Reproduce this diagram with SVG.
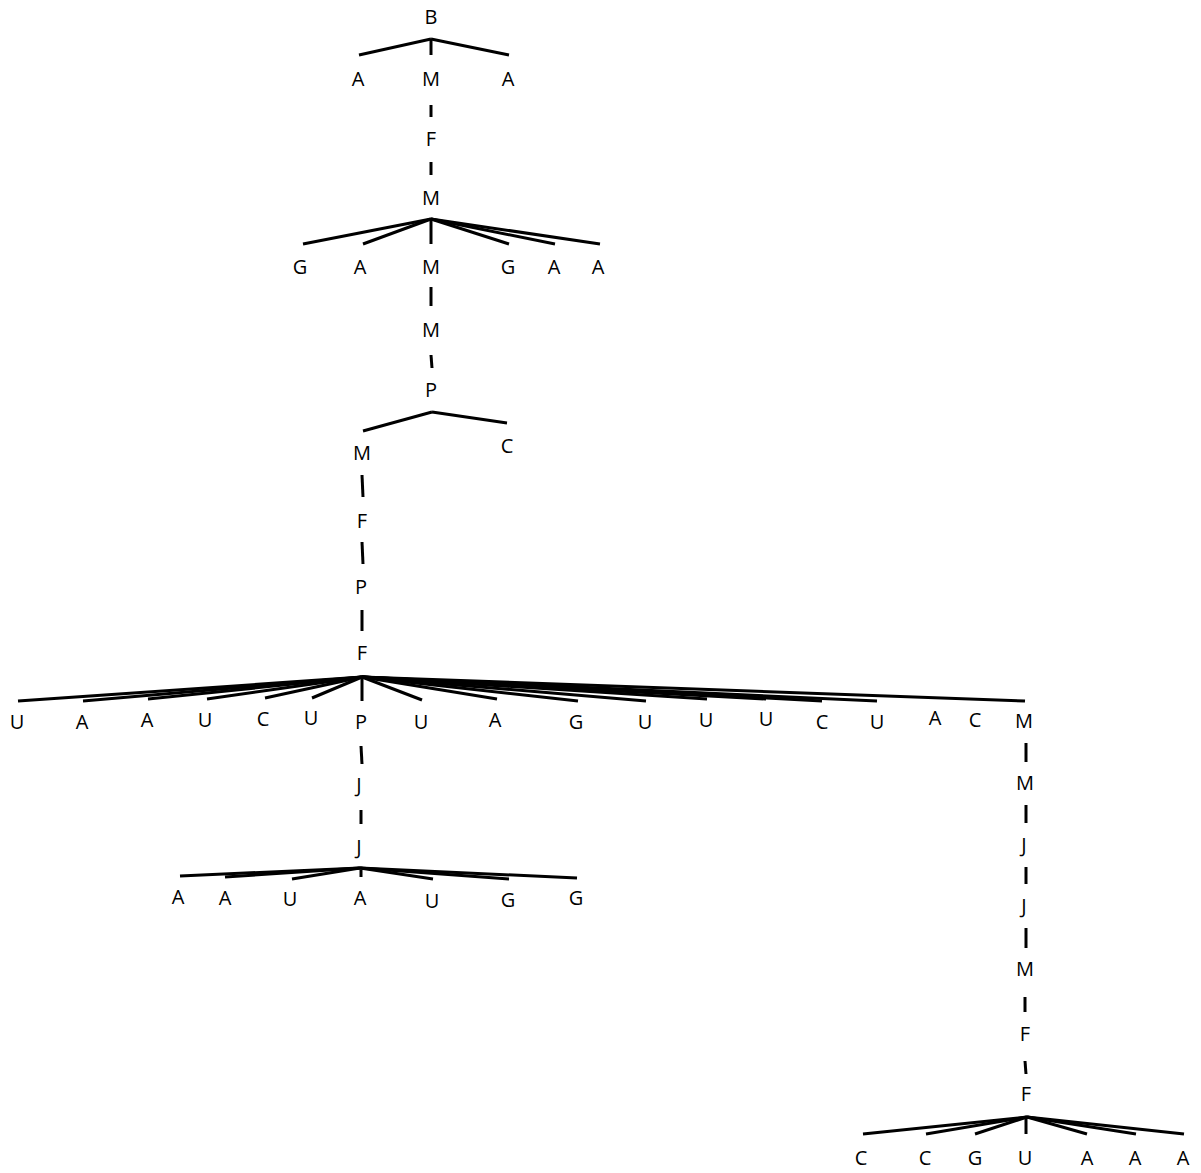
<svg xmlns="http://www.w3.org/2000/svg" width="1201" height="1173" viewBox="0 0 1201 1173">
<style>
text{font-family:"Open Sans","Liberation Sans",sans-serif;font-size:20px;fill:#000;text-anchor:middle}
.c line{stroke:#000;stroke-width:3;stroke-linecap:butt}
</style>
<rect width="1201" height="1173" fill="#fff"/>
<g class="c" id="connectors">
<line x1="431" y1="39" x2="359" y2="55"/><line x1="431" y1="39" x2="431" y2="55"/><line x1="431" y1="39" x2="509" y2="55"/>
<line x1="431" y1="105" x2="431" y2="117"/><line x1="431" y1="162" x2="431" y2="175"/>
<line x1="431" y1="219" x2="303" y2="244"/><line x1="431" y1="219" x2="363" y2="244"/><line x1="431" y1="219" x2="431" y2="244"/><line x1="431" y1="219" x2="509" y2="244"/><line x1="431" y1="219" x2="555" y2="244"/><line x1="431" y1="219" x2="600" y2="244"/>
<line x1="431" y1="287" x2="431" y2="306"/><line x1="431" y1="355" x2="432" y2="368"/>
<line x1="432" y1="412" x2="363" y2="431"/><line x1="432" y1="412" x2="507" y2="423"/>
<line x1="362" y1="475" x2="363" y2="497"/><line x1="362" y1="542" x2="363" y2="564"/><line x1="362" y1="610" x2="362" y2="631"/>
<line x1="362" y1="677" x2="18" y2="701"/><line x1="362" y1="677" x2="83" y2="701"/><line x1="362" y1="677" x2="148" y2="699"/><line x1="362" y1="677" x2="207" y2="699"/><line x1="362" y1="677" x2="265" y2="698"/><line x1="362" y1="677" x2="312" y2="698"/><line x1="362" y1="677" x2="362" y2="701"/><line x1="362" y1="677" x2="422" y2="700"/><line x1="362" y1="677" x2="497" y2="699"/><line x1="362" y1="677" x2="578" y2="701"/><line x1="362" y1="677" x2="646" y2="701"/><line x1="362" y1="677" x2="707" y2="699"/><line x1="362" y1="677" x2="766" y2="699"/><line x1="362" y1="677" x2="822" y2="701"/><line x1="362" y1="677" x2="877" y2="701"/><line x1="362" y1="677" x2="1025" y2="701"/>
<line x1="361" y1="746" x2="362" y2="764"/><line x1="361" y1="810" x2="361" y2="824"/>
<line x1="360" y1="868" x2="180" y2="876"/><line x1="360" y1="868" x2="225" y2="877"/><line x1="360" y1="868" x2="292" y2="879"/><line x1="361" y1="870" x2="361" y2="877"/><line x1="360" y1="868" x2="433" y2="879"/><line x1="360" y1="868" x2="509" y2="879"/><line x1="360" y1="868" x2="577" y2="878"/>
<line x1="1026" y1="743" x2="1026" y2="762"/><line x1="1026" y1="805" x2="1026" y2="823"/><line x1="1026" y1="867" x2="1026" y2="884"/><line x1="1026" y1="928" x2="1026" y2="948"/><line x1="1025" y1="997" x2="1025" y2="1012"/><line x1="1025" y1="1061" x2="1026" y2="1074"/>
<line x1="1027" y1="1117" x2="863" y2="1134"/><line x1="1027" y1="1117" x2="926" y2="1134"/><line x1="1027" y1="1117" x2="975" y2="1134"/><line x1="1026" y1="1117" x2="1026" y2="1134"/><line x1="1027" y1="1117" x2="1087" y2="1134"/><line x1="1027" y1="1117" x2="1136" y2="1134"/><line x1="1027" y1="1117" x2="1184" y2="1134"/>
</g>
<g id="n1"><text x="431" y="24">B</text></g>
<g id="n2"><text x="358" y="86">A</text></g>
<g id="n3"><text x="431" y="86">M</text></g>
<g id="n4"><text x="508" y="86">A</text></g>
<g id="n5"><text x="431" y="146">F</text></g>
<g id="n6"><text x="431" y="205">M</text></g>
<g id="n7"><text x="300" y="274">G</text></g>
<g id="n8"><text x="360" y="274">A</text></g>
<g id="n9"><text x="431" y="274">M</text></g>
<g id="n10"><text x="508" y="274">G</text></g>
<g id="n11"><text x="554" y="274">A</text></g>
<g id="n12"><text x="598" y="274">A</text></g>
<g id="n13"><text x="431" y="337">M</text></g>
<g id="n14"><text x="431" y="397">P</text></g>
<g id="n15"><text x="362" y="460">M</text></g>
<g id="n16"><text x="507" y="453">C</text></g>
<g id="n17"><text x="362" y="528">F</text></g>
<g id="n18"><text x="361" y="594">P</text></g>
<g id="n19"><text x="362" y="660">F</text></g>
<g id="n20"><text x="17" y="729">U</text></g>
<g id="n21"><text x="82" y="729">A</text></g>
<g id="n22"><text x="147" y="727">A</text></g>
<g id="n23"><text x="205" y="727">U</text></g>
<g id="n24"><text x="263" y="726">C</text></g>
<g id="n25"><text x="311" y="725">U</text></g>
<g id="n26"><text x="361" y="729">P</text></g>
<g id="n27"><text x="421" y="729">U</text></g>
<g id="n28"><text x="495" y="727">A</text></g>
<g id="n29"><text x="576" y="729">G</text></g>
<g id="n30"><text x="645" y="729">U</text></g>
<g id="n31"><text x="706" y="727">U</text></g>
<g id="n32"><text x="766" y="726">U</text></g>
<g id="n33"><text x="822" y="729">C</text></g>
<g id="n34"><text x="877" y="729">U</text></g>
<g id="n35"><text x="935" y="725">A</text></g>
<g id="n36"><text x="975" y="727">C</text></g>
<g id="n37"><text x="1024" y="728">M</text></g>
<g id="n38"><text x="359" y="792">J</text></g>
<g id="n39"><text x="359" y="854">J</text></g>
<g id="n40"><text x="178" y="904">A</text></g>
<g id="n41"><text x="225" y="905">A</text></g>
<g id="n42"><text x="290" y="906">U</text></g>
<g id="n43"><text x="360" y="905">A</text></g>
<g id="n44"><text x="432" y="908">U</text></g>
<g id="n45"><text x="508" y="907">G</text></g>
<g id="n46"><text x="576" y="905">G</text></g>
<g id="n47"><text x="1025" y="790">M</text></g>
<g id="n48"><text x="1024" y="852">J</text></g>
<g id="n49"><text x="1024" y="913">J</text></g>
<g id="n50"><text x="1025" y="976">M</text></g>
<g id="n51"><text x="1025" y="1041">F</text></g>
<g id="n52"><text x="1026" y="1101">F</text></g>
<g id="n53"><text x="861" y="1165">C</text></g>
<g id="n54"><text x="925" y="1165">C</text></g>
<g id="n55"><text x="975" y="1165">G</text></g>
<g id="n56"><text x="1025" y="1165">U</text></g>
<g id="n57"><text x="1087" y="1165">A</text></g>
<g id="n58"><text x="1135" y="1165">A</text></g>
<g id="n59"><text x="1183" y="1165">A</text></g>
</svg>
